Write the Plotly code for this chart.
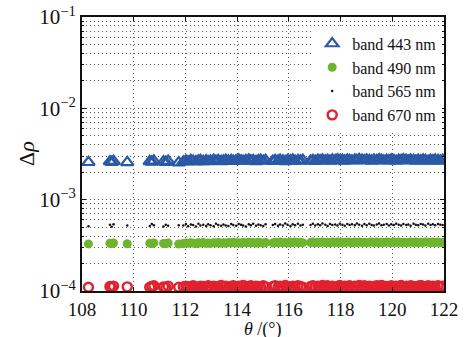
import plotly.graph_objects as go

# Scattering angle of each sample (degrees)
theta = [
    108.25, 109.08, 109.15, 109.22, 109.75, 110.62, 110.70, 110.78, 111.15, 111.24, 111.33, 111.74,
    111.92, 112.02, 112.10, 112.21, 112.30, 112.41, 112.50, 112.58, 112.69, 112.80,
    112.88, 112.97, 113.09, 113.18, 113.27, 113.38, 113.47, 113.56, 113.66, 113.77,
    113.85, 113.96, 114.06, 114.15, 114.23, 114.34, 114.45, 114.53, 114.62, 114.73,
    114.82, 114.91, 115.01, 115.10,
    115.38, 115.47, 115.58, 115.66, 115.77, 115.86, 115.95, 116.06, 116.15, 116.24,
    116.35, 116.45, 116.54,
    116.84, 116.93, 117.02, 117.12, 117.21, 117.30, 117.41, 117.50, 117.59, 117.68,
    117.79, 117.88, 117.97, 118.07, 118.16, 118.26, 118.35, 118.44, 118.55, 118.63,
    118.72, 118.83, 118.92, 119.01, 119.11, 119.20, 119.29, 119.40, 119.49, 119.58,
    119.67, 119.78, 119.87, 119.96, 120.06, 120.15, 120.25, 120.34, 120.43, 120.54,
    120.62, 120.71, 120.82, 120.91, 121.00, 121.10, 121.19, 121.28, 121.39, 121.48,
    121.57, 121.66, 121.77, 121.86, 121.95,
]

# Delta rho per band (443 nm in units of 1e-3, others in units of 1e-4)
UNIT_443 = 1e-3
UNIT_OTHER = 1e-4

d443 = [
    2.57, 2.62, 2.58, 2.64, 2.56, 2.63, 2.59, 2.66, 2.61, 2.58, 2.65, 2.55,
    2.60, 2.66, 2.62, 2.69, 2.64, 2.61, 2.67, 2.70, 2.63, 2.68,
    2.62, 2.66, 2.71, 2.65, 2.69, 2.63, 2.67, 2.72, 2.66, 2.70,
    2.64, 2.68, 2.73, 2.67, 2.65, 2.70, 2.74, 2.66, 2.69, 2.63,
    2.68, 2.72, 2.65, 2.70,
    2.64, 2.69, 2.66, 2.72, 2.67, 2.63, 2.70, 2.68, 2.73, 2.65,
    2.69, 2.66, 2.71,
    2.66, 2.70, 2.64, 2.72, 2.68, 2.74, 2.67, 2.71, 2.65, 2.73,
    2.69, 2.75, 2.68, 2.72, 2.66, 2.74, 2.70, 2.67, 2.73, 2.69,
    2.76, 2.71, 2.68, 2.74, 2.70, 2.66, 2.73, 2.69, 2.75, 2.71,
    2.67, 2.72, 2.68, 2.74, 2.70, 2.65, 2.72, 2.69, 2.75, 2.71,
    2.67, 2.73, 2.70, 2.66, 2.72, 2.68, 2.74, 2.70, 2.65, 2.71,
    2.68, 2.73, 2.69, 2.66, 2.72,
]

d490 = [
    3.28, 3.33, 3.30, 3.35, 3.29, 3.34, 3.31, 3.36, 3.32, 3.30, 3.35, 3.27,
    3.31, 3.36, 3.33, 3.38, 3.34, 3.30, 3.37, 3.35, 3.39, 3.33,
    3.36, 3.32, 3.38, 3.35, 3.40, 3.34, 3.37, 3.33, 3.39, 3.36,
    3.41, 3.35, 3.38, 3.34, 3.40, 3.37, 3.42, 3.36, 3.39, 3.35,
    3.41, 3.38, 3.34, 3.40,
    3.36, 3.41, 3.38, 3.43, 3.37, 3.40, 3.35, 3.42, 3.39, 3.44,
    3.37, 3.41, 3.38,
    3.39, 3.43, 3.37, 3.42, 3.40, 3.45, 3.38, 3.41, 3.36, 3.44,
    3.40, 3.43, 3.38, 3.42, 3.39, 3.45, 3.41, 3.37, 3.43, 3.40,
    3.44, 3.39, 3.42, 3.38, 3.41, 3.45, 3.40, 3.43, 3.37, 3.42,
    3.39, 3.44, 3.41, 3.38, 3.43, 3.40, 3.45, 3.39, 3.42, 3.37,
    3.41, 3.44, 3.40, 3.43, 3.38, 3.42, 3.39, 3.45, 3.41, 3.37,
    3.43, 3.40, 3.44, 3.39, 3.42,
]

d565 = [
    5.12, 5.30, 5.05, 5.38, 5.21, 5.15, 5.42, 5.26, 5.09, 5.33, 5.18, 5.24,
    5.20, 5.41, 5.13, 5.35, 5.27, 5.08, 5.44, 5.22, 5.31, 5.16,
    5.38, 5.25, 5.11, 5.46, 5.29, 5.19, 5.36, 5.23, 5.14, 5.40,
    5.28, 5.17, 5.43, 5.32, 5.21, 5.10, 5.37, 5.26, 5.45, 5.19,
    5.34, 5.24, 5.15, 5.39,
    5.27, 5.42, 5.18, 5.35, 5.23, 5.47, 5.30, 5.14, 5.39, 5.26,
    5.44, 5.21, 5.33,
    5.29, 5.45, 5.20, 5.37, 5.25, 5.48, 5.31, 5.16, 5.41, 5.27,
    5.35, 5.22, 5.46, 5.30, 5.19, 5.43, 5.28, 5.38, 5.24, 5.49,
    5.32, 5.18, 5.40, 5.26, 5.44, 5.29, 5.21, 5.36, 5.47, 5.25,
    5.33, 5.42, 5.20, 5.38, 5.27, 5.45, 5.31, 5.23, 5.40, 5.28,
    5.36, 5.19, 5.44, 5.30, 5.25, 5.41, 5.34, 5.22, 5.46, 5.29,
    5.37, 5.24, 5.43, 5.31, 5.27,
]

d670 = [
    1.10, 1.12, 1.09, 1.13, 1.11, 1.10, 1.12, 1.14, 1.11, 1.09, 1.13, 1.10,
    1.11, 1.13, 1.10, 1.12, 1.14, 1.11, 1.09, 1.13, 1.12, 1.10,
    1.14, 1.11, 1.13, 1.10, 1.12, 1.15, 1.11, 1.13, 1.09, 1.12,
    1.14, 1.10, 1.13, 1.11, 1.15, 1.12, 1.10, 1.14, 1.11, 1.13,
    1.12, 1.10, 1.14, 1.11,
    1.12, 1.14, 1.10, 1.13, 1.11, 1.15, 1.12, 1.09, 1.13, 1.11,
    1.14, 1.12, 1.10,
    1.12, 1.14, 1.11, 1.13, 1.10, 1.15, 1.12, 1.14, 1.11, 1.13,
    1.10, 1.12, 1.15, 1.11, 1.13, 1.12, 1.14, 1.10, 1.13, 1.11,
    1.15, 1.12, 1.14, 1.11, 1.13, 1.10, 1.12, 1.14, 1.11, 1.15,
    1.13, 1.12, 1.10, 1.14, 1.11, 1.13, 1.12, 1.15, 1.11, 1.13,
    1.10, 1.14, 1.12, 1.11, 1.13, 1.15, 1.12, 1.10, 1.14, 1.11,
    1.13, 1.12, 1.14, 1.11, 1.13,
]

x_ticks = [108, 110, 112, 114, 116, 118, 120, 122]
y_ticks = [1e-4, 1e-3, 1e-2, 1e-1]
y_ticktext = ["10<sup>\u22124</sup>", "10<sup>\u22123</sup>", "10<sup>\u22122</sup>", "10<sup>\u22121</sup>"]
y_minor = [m * 10.0 ** e for e in (-4, -3, -2) for m in range(2, 10)]
x_title = "<i>\u03b8</i> /(\u00b0)"
y_title = "\u0394<i>\u03c1</i>"

FONT = "Liberation Serif"
BLUE = "#2a59a6"
GREEN = "#6cb52d"
RED = "#e2202e"

fig = go.Figure()
fig.add_trace(go.Scatter(
    x=theta, y=[v * UNIT_443 for v in d443], mode="markers", name="band 443 nm",
    marker=dict(symbol="triangle-up-open", size=11, color=BLUE, line=dict(width=2.2, color=BLUE)),
))
fig.add_trace(go.Scatter(
    x=theta, y=[v * UNIT_OTHER for v in d490], mode="markers", name="band 490 nm",
    marker=dict(symbol="circle", size=9, color=GREEN, line=dict(width=0)),
))
fig.add_trace(go.Scatter(
    x=theta, y=[v * UNIT_OTHER for v in d565], mode="markers", name="band 565 nm",
    marker=dict(symbol="circle", size=2.5, color="#111111", line=dict(width=0)),
))
fig.add_trace(go.Scatter(
    x=theta, y=[v * UNIT_OTHER for v in d670], mode="markers", name="band 670 nm",
    marker=dict(symbol="circle-open", size=9, color=RED, line=dict(width=2.4, color=RED)),
))

grid_color = "#5a5a5a"
fig.update_layout(
    width=464, height=337,
    margin=dict(l=82, r=20, t=17, b=46),
    paper_bgcolor="white", plot_bgcolor="white",
    font=dict(family=FONT, size=20, color="#111111"),
    showlegend=True,
    legend=dict(
        x=0.995, y=0.965, xanchor="right", yanchor="top",
        bgcolor="white", borderwidth=0,
        font=dict(family=FONT, size=16, color="#111111"),
        itemwidth=30, tracegroupgap=0,
    ),
    xaxis=dict(
        range=[108, 122], tickvals=x_ticks, ticktext=[str(t) for t in x_ticks],
        showline=True, linecolor="#111111", linewidth=2, mirror="allticks",
        ticks="inside", ticklen=4, tickcolor="#111111",
        showgrid=True, gridcolor=grid_color, griddash="1px,3px", gridwidth=1,
        zeroline=False, automargin=False,
        tickfont=dict(family=FONT, size=19),
    ),
    yaxis=dict(
        type="log", range=[-4, -1], tickvals=y_ticks, ticktext=y_ticktext,
        showline=True, linecolor="#111111", linewidth=2, mirror="allticks",
        ticks="inside", ticklen=4, tickcolor="#111111",
        showgrid=True, gridcolor=grid_color, griddash="1px,3px", gridwidth=1,
        zeroline=False, automargin=False,
        tickfont=dict(family=FONT, size=21),
        minor=dict(tickvals=y_minor, ticks="inside", ticklen=2, tickcolor="#111111",
                   showgrid=True, gridcolor=grid_color, griddash="1px,3px", gridwidth=1),
    ),
    annotations=[
        dict(text=x_title, xref="paper", yref="paper", x=0.5, y=0, yshift=-38,
             xanchor="center", yanchor="middle", showarrow=False,
             font=dict(family=FONT, size=18, color="#111111")),
        dict(text=y_title, xref="paper", yref="paper", x=0, y=0.5, xshift=-56,
             xanchor="center", yanchor="middle", textangle=-90, showarrow=False,
             font=dict(family=FONT, size=22, color="#111111")),
    ],
)

fig.write_html("out.html")
